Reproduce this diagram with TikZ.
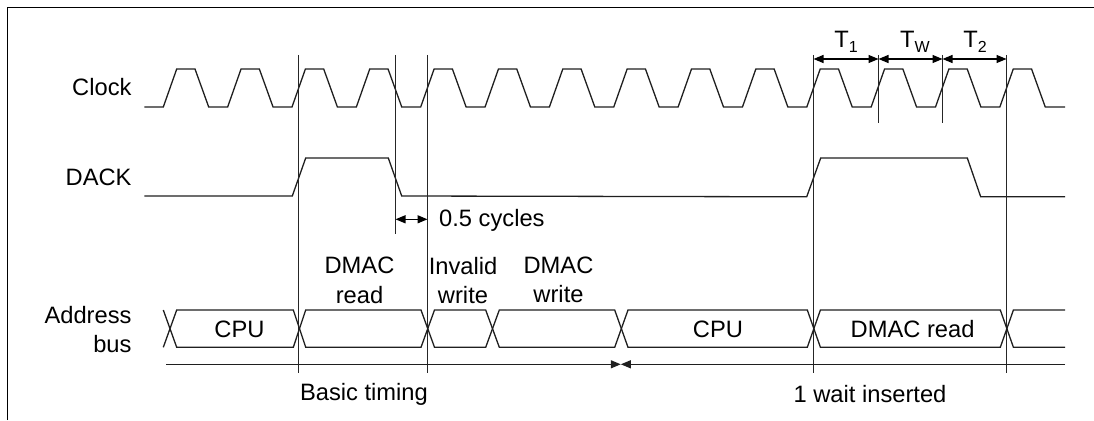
\documentclass[tikz,border=0pt]{standalone}
\usepackage{fontspec}
\setmainfont{Liberation Sans}
\usetikzlibrary{arrows.meta}
\tikzset{
  x=1pt,y=-1pt,
  sig/.style={line width=1.3pt,black!88,line join=miter},
  vline/.style={line width=1pt,black!85},
  frm/.style={line width=1.3pt,black},
  lab/.style={font=\fontsize{23.7}{29.5}\selectfont,inner sep=0pt,align=center},
  rlab/.style={lab,anchor=east,align=right},
  tip/.style={Triangle[length=10pt,width=8pt]},
  dim/.style={line width=1.3pt,black,{Triangle[length=10pt,width=8pt]}-{Triangle[length=10pt,width=8pt]}},
  bar/.style={line width=1.3pt,black!88}
}
\newcommand{\subtxt}[1]{\raisebox{-5pt}{\fontsize{16}{16}\selectfont #1}}
\begin{document}
\begin{tikzpicture}
\useasboundingbox (0,0) rectangle (1094,420);
\draw[frm] (7.5,420) -- (7.5,7.5) -- (1094,7.5);
% clock
\draw[sig] (144.3,107)
\foreach \i in {0,...,13}{
  -- ({163.3+64.35*\i},107) -- ({176.7+64.35*\i},69) -- ({195+64.35*\i},69) -- ({208.7+64.35*\i},107)
} -- (1065,107);
% DACK
\draw[sig] (144.3,196) -- (292.3,196) -- (305.7,158) -- (388.3,158) -- (401.7,196) -- (806.7,196.8) -- (820.7,158) -- (967.3,158) -- (980.7,196.8) -- (1065,196.8);
% verticals
\foreach \x/\b in {298.5/372.7,395.5/234,427.5/372.7,813.5/372.7,878.5/122.7,942.5/122.7,1006.5/372.7}
  \draw[vline] (\x,55) -- (\x,\b);
% bus
\draw[sig] (163.3,347.3) -- (176.7,310) -- (293.3,310) -- (305.7,347.3) -- (421,347.3) -- (434.5,310) -- (485.7,310) -- (499.3,347.3) -- (614.7,347.3) -- (628,310) -- (807.3,310) -- (820.4,347.3) -- (1000.3,347.3) -- (1013.4,310) -- (1065,310);
\draw[sig] (163.3,310) -- (176.7,347.3) -- (293.3,347.3) -- (305.7,310) -- (421,310) -- (434.5,347.3) -- (485.7,347.3) -- (499.3,310) -- (614.7,310) -- (628,347.3) -- (807.3,347.3) -- (820.4,310) -- (1000.3,310) -- (1013.4,347.3) -- (1065,347.3);
% bottom bars
\coordinate (bl) at (166,364.3); \coordinate (bm) at (620.8,364.3); \coordinate (br) at (1065,364.3);
\draw[bar,-{Triangle[length=10pt,width=8pt]}] (bl) -- (bm);
\draw[bar,-{Triangle[length=10pt,width=8pt]}] (br) -- (bm);
% dims
\coordinate (t0) at (813.5,59); \coordinate (t1) at (878.5,59); \coordinate (t2) at (942.5,59); \coordinate (t3) at (1006.5,59);
\draw[dim] (t0) -- (t1); \draw[dim] (t1) -- (t2); \draw[dim] (t2) -- (t3);
\coordinate (h0) at (395.5,219.3); \coordinate (h1) at (427.5,219.3);
\draw[dim] (h0) -- (h1);
% labels
\node[rlab] (lclock) at (131.7,87) {Clock};
\node[rlab] (ldack) at (131.7,177) {DACK};
\node[rlab] (laddr) at (131.7,329.5) {Address\\bus};
\node[lab] (ncpu1) at (239.5,329) {CPU};
\node[lab] (ndr) at (359.5,280.5) {DMAC\\read};
\node[lab] (niw) at (463,280.5) {Invalid\\write};
\node[lab] (ndw) at (558.5,280) {DMAC\\write};
\node[lab] (ncpu2) at (718,329) {CPU};
\node[lab] (ndr2) at (912.6,329) {DMAC read};
\node[lab] (nbt) at (364,394) {Basic timing};
\node[lab] (nw) at (870,394) {1 wait inserted};
\node[lab,anchor=west] (ncyc) at (439,220) {0.5 cycles};
\node[lab] (n1) at (846,42) {T\subtxt{1}};
\node[lab] (nw1) at (915,42) {T\subtxt{W}};
\node[lab] (n2) at (975,42) {T\subtxt{2}};
\end{tikzpicture}
\end{document}
